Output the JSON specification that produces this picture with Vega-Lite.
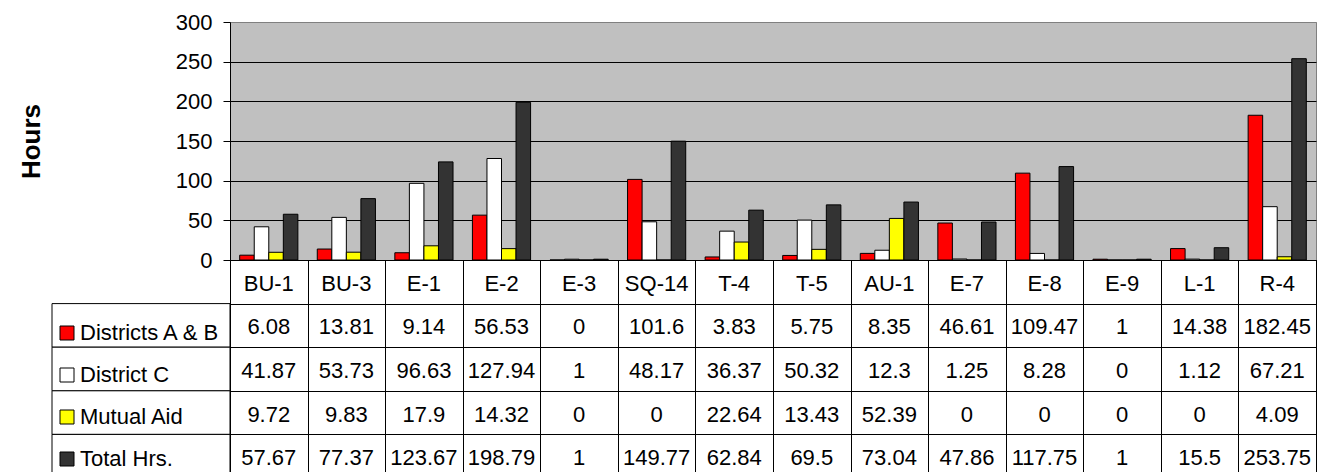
{
  "$schema": "https://vega.github.io/schema/vega-lite/v6.json",
  "padding": {"left": 17, "top": 10, "right": 5, "bottom": 0},
  "config": {"font": "Liberation Sans"},
  "datasets": {
    "hours": [
      {"cat": "BU-1", "series": "Districts A & B", "value": 6.08},
      {"cat": "BU-3", "series": "Districts A & B", "value": 13.81},
      {"cat": "E-1", "series": "Districts A & B", "value": 9.14},
      {"cat": "E-2", "series": "Districts A & B", "value": 56.53},
      {"cat": "E-3", "series": "Districts A & B", "value": 0},
      {"cat": "SQ-14", "series": "Districts A & B", "value": 101.6},
      {"cat": "T-4", "series": "Districts A & B", "value": 3.83},
      {"cat": "T-5", "series": "Districts A & B", "value": 5.75},
      {"cat": "AU-1", "series": "Districts A & B", "value": 8.35},
      {"cat": "E-7", "series": "Districts A & B", "value": 46.61},
      {"cat": "E-8", "series": "Districts A & B", "value": 109.47},
      {"cat": "E-9", "series": "Districts A & B", "value": 1},
      {"cat": "L-1", "series": "Districts A & B", "value": 14.38},
      {"cat": "R-4", "series": "Districts A & B", "value": 182.45},
      {"cat": "BU-1", "series": "District C", "value": 41.87},
      {"cat": "BU-3", "series": "District C", "value": 53.73},
      {"cat": "E-1", "series": "District C", "value": 96.63},
      {"cat": "E-2", "series": "District C", "value": 127.94},
      {"cat": "E-3", "series": "District C", "value": 1},
      {"cat": "SQ-14", "series": "District C", "value": 48.17},
      {"cat": "T-4", "series": "District C", "value": 36.37},
      {"cat": "T-5", "series": "District C", "value": 50.32},
      {"cat": "AU-1", "series": "District C", "value": 12.3},
      {"cat": "E-7", "series": "District C", "value": 1.25},
      {"cat": "E-8", "series": "District C", "value": 8.28},
      {"cat": "E-9", "series": "District C", "value": 0},
      {"cat": "L-1", "series": "District C", "value": 1.12},
      {"cat": "R-4", "series": "District C", "value": 67.21},
      {"cat": "BU-1", "series": "Mutual Aid", "value": 9.72},
      {"cat": "BU-3", "series": "Mutual Aid", "value": 9.83},
      {"cat": "E-1", "series": "Mutual Aid", "value": 17.9},
      {"cat": "E-2", "series": "Mutual Aid", "value": 14.32},
      {"cat": "E-3", "series": "Mutual Aid", "value": 0},
      {"cat": "SQ-14", "series": "Mutual Aid", "value": 0},
      {"cat": "T-4", "series": "Mutual Aid", "value": 22.64},
      {"cat": "T-5", "series": "Mutual Aid", "value": 13.43},
      {"cat": "AU-1", "series": "Mutual Aid", "value": 52.39},
      {"cat": "E-7", "series": "Mutual Aid", "value": 0},
      {"cat": "E-8", "series": "Mutual Aid", "value": 0},
      {"cat": "E-9", "series": "Mutual Aid", "value": 0},
      {"cat": "L-1", "series": "Mutual Aid", "value": 0},
      {"cat": "R-4", "series": "Mutual Aid", "value": 4.09},
      {"cat": "BU-1", "series": "Total Hrs.", "value": 57.67},
      {"cat": "BU-3", "series": "Total Hrs.", "value": 77.37},
      {"cat": "E-1", "series": "Total Hrs.", "value": 123.67},
      {"cat": "E-2", "series": "Total Hrs.", "value": 198.79},
      {"cat": "E-3", "series": "Total Hrs.", "value": 1},
      {"cat": "SQ-14", "series": "Total Hrs.", "value": 149.77},
      {"cat": "T-4", "series": "Total Hrs.", "value": 62.84},
      {"cat": "T-5", "series": "Total Hrs.", "value": 69.5},
      {"cat": "AU-1", "series": "Total Hrs.", "value": 73.04},
      {"cat": "E-7", "series": "Total Hrs.", "value": 47.86},
      {"cat": "E-8", "series": "Total Hrs.", "value": 117.75},
      {"cat": "E-9", "series": "Total Hrs.", "value": 1},
      {"cat": "L-1", "series": "Total Hrs.", "value": 15.5},
      {"cat": "R-4", "series": "Total Hrs.", "value": 253.75}
    ]
  },
  "columns": 2,
  "spacing": 0,
  "align": "each",
  "bounds": "flush",
  "concat": [
    {
      "width": 178,
      "height": 238,
      "data": {"values": []},
      "view": {"stroke": null},
      "mark": "rect",
      "encoding": {}
    },
    {
      "width": 1086,
      "height": 238,
      "data": {"name": "hours"},
      "view": {"fill": "#C0C0C0", "stroke": "#808080"},
      "mark": {"type": "bar", "stroke": "black", "strokeWidth": 1},
      "encoding": {
        "x": {
          "field": "cat", "type": "nominal",
          "sort": ["BU-1", "BU-3", "E-1", "E-2", "E-3", "SQ-14", "T-4", "T-5", "AU-1", "E-7", "E-8", "E-9", "L-1", "R-4"],
          "scale": {"paddingInner": 0.25, "paddingOuter": 0.125},
          "axis": {"title": null, "labels": false, "ticks": false, "grid": false, "domainColor": "black", "domainWidth": 1}
        },
        "xOffset": {
          "field": "series", "type": "nominal",
          "sort": ["Districts A & B", "District C", "Mutual Aid", "Total Hrs."],
          "scale": {"paddingInner": 0, "paddingOuter": 0}
        },
        "y": {
          "field": "value", "type": "quantitative",
          "scale": {"domain": [0, 300], "nice": false},
          "axis": {
            "title": "Hours", "values": [0, 50, 100, 150, 200, 250, 300],
            "grid": true,
            "gridColor": {"condition": {"test": "datum.value === 300", "value": "#808080"}, "value": "black"},
            "gridOpacity": 1, "gridWidth": 1,
            "domainColor": "black", "tickColor": "black", "tickSize": 7, "labelPadding": 11,
            "labelFontSize": 22, "labelColor": "black",
            "titleFontSize": 26, "titleFontWeight": "bold", "titleColor": "black",
            "titleAngle": 270, "titleAlign": "center", "titleBaseline": "middle",
            "titleX": -199, "titleY": 119
          }
        },
        "color": {
          "field": "series", "type": "nominal",
          "scale": {"domain": ["Districts A & B", "District C", "Mutual Aid", "Total Hrs."], "range": ["#FF0000", "#FFFFFF", "#FFFF00", "#333333"]},
          "legend": {
            "orient": "none", "legendX": 4, "legendY": 300, "title": null,
            "symbolType": "square", "symbolSize": 196, "symbolStrokeColor": "black", "symbolStrokeWidth": 1, "symbolOpacity": 1,
            "labelFontSize": 22, "labelColor": "black", "labelOffset": 2, "rowPadding": 20, "padding": 0, "labelLimit": 300
          }
        }
      }
    },
    {
      "width": 178,
      "height": 218,
      "data": {"name": "hours"},
      "transform": [{"filter": "datum.cat === 'BU-1'"}],
      "view": {"stroke": null},
      "mark": {"type": "rect", "fill": "white", "stroke": "black", "strokeWidth": 1},
      "encoding": {
        "y": {
          "field": "series", "type": "nominal",
          "scale": {"domain": ["header", "Districts A & B", "District C", "Mutual Aid", "Total Hrs."], "paddingInner": 0, "paddingOuter": 0},
          "axis": null
        }
      }
    },
    {
      "width": 1086,
      "height": 218,
      "data": {"name": "hours"},
      "view": {"fill": "white", "stroke": "black"},
      "encoding": {
        "x": {
          "field": "cat", "type": "nominal",
          "sort": ["BU-1", "BU-3", "E-1", "E-2", "E-3", "SQ-14", "T-4", "T-5", "AU-1", "E-7", "E-8", "E-9", "L-1", "R-4"],
          "scale": {"paddingInner": 0, "paddingOuter": 0},
          "axis": {"orient": "top", "title": null, "labels": false, "ticks": false, "domain": false, "grid": true, "tickBand": "extent", "gridColor": "black", "gridOpacity": 1, "gridWidth": 1}
        },
        "y": {
          "field": "series", "type": "nominal",
          "scale": {"domain": ["header", "Districts A & B", "District C", "Mutual Aid", "Total Hrs."], "paddingInner": 0, "paddingOuter": 0},
          "axis": {"orient": "left", "title": null, "labels": false, "ticks": false, "domain": false, "grid": true, "tickBand": "extent", "gridColor": "black", "gridOpacity": 1, "gridWidth": 1}
        }
      },
      "layer": [
        {
          "mark": {"type": "text", "fontSize": 22, "color": "black", "baseline": "middle", "dy": 2},
          "encoding": {"text": {"field": "value", "type": "nominal"}}
        },
        {
          "transform": [{"filter": "datum.series === 'Total Hrs.'"}],
          "mark": {"type": "text", "fontSize": 22, "color": "black", "baseline": "middle", "dy": 2},
          "encoding": {"y": {"datum": "header"}, "text": {"field": "cat", "type": "nominal"}}
        }
      ]
    }
  ]
}
